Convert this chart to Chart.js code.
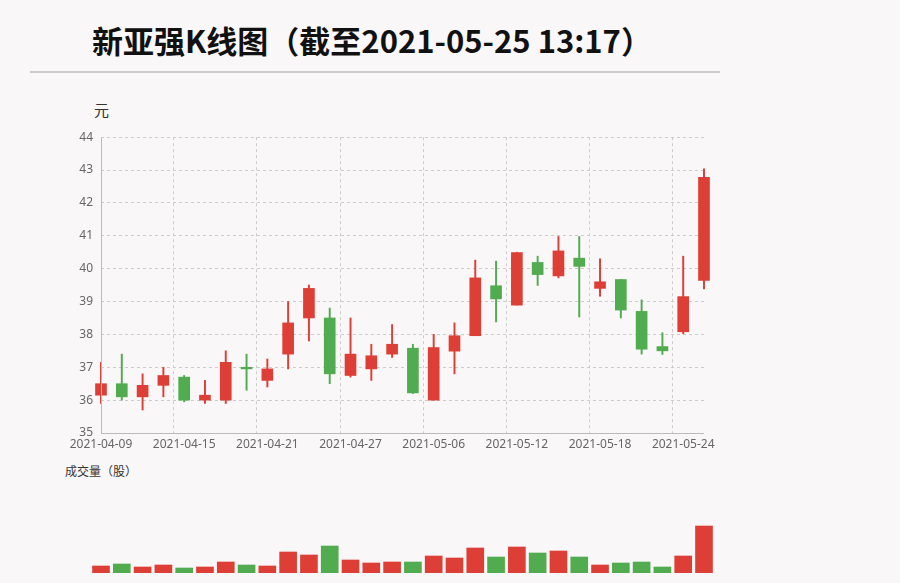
<!DOCTYPE html>
<html>
<head>
<meta charset="utf-8">
<script src="https://cdn.jsdelivr.net/npm/chart.js@4/dist/chart.umd.min.js"></script>
<style>
  body { margin: 0; background: #faf7f8; width: 900px; height: 583px; position: relative; overflow: hidden; font-family: "Noto Sans CJK SC", "Noto Sans", sans-serif; }
  #title { position: absolute; left: 0; width: 744px; top: 17px; text-align: center; font-size: 31px; font-weight: bold; color: #111; }
  #rule { position: absolute; left: 30px; width: 690px; top: 71px; height: 2px; background: #ccc; }
  .lbl { position: absolute; color: #333; }
  #priceBox { position: absolute; left: 61px; top: 122px; width: 659px; height: 335px; }
  #volBox { position: absolute; left: 61px; top: 480px; width: 659px; height: 93px; }
</style>
</head>
<body>
<div id="title">新亚强K线图（截至2021-05-25 13:17）</div>
<div id="rule"></div>
<div class="lbl" style="left:94px;top:99px;font-size:15px;">元</div>
<div class="lbl" style="left:65px;top:462px;font-size:12px;">成交量（股）</div>
<div id="priceBox"><canvas id="price"></canvas></div>
<div id="volBox"><canvas id="vol"></canvas></div>
<script>
const dates = ["2021-04-09","2021-04-12","2021-04-13","2021-04-14","2021-04-15","2021-04-16",
  "2021-04-19","2021-04-20","2021-04-21","2021-04-22","2021-04-23","2021-04-26","2021-04-27",
  "2021-04-28","2021-04-29","2021-04-30","2021-05-06","2021-05-07","2021-05-10","2021-05-11",
  "2021-05-12","2021-05-13","2021-05-14","2021-05-17","2021-05-18","2021-05-19","2021-05-20",
  "2021-05-21","2021-05-24","2021-05-25"];
const openPrices  = [36.15,36.5,36.1,36.45,36.7,36.0,36.0,37.0,36.6,37.4,38.5,38.5,36.75,36.95,37.4,37.58,36.0,37.49,37.96,39.48,38.89,40.19,39.78,40.32,39.4,39.67,38.7,37.63,38.08,39.64];
const closePrices = [36.5,36.1,36.45,36.75,36.0,36.15,37.15,36.95,36.95,38.35,39.4,36.8,37.4,37.35,37.7,36.22,37.6,37.96,39.72,39.08,40.49,39.82,40.54,40.07,39.6,38.74,37.55,37.5,39.15,42.78];
const highPrices  = [37.15,37.4,36.8,37.0,36.75,36.6,37.5,37.4,37.25,39.0,39.5,38.8,38.5,37.7,38.3,37.7,38.0,38.35,40.26,40.23,40.5,40.38,40.98,40.98,40.3,39.67,39.05,38.05,40.38,43.04];
const lowPrices   = [35.9,36.0,35.7,36.1,35.95,35.9,35.9,36.3,36.4,36.95,37.8,36.5,36.7,36.6,37.3,36.2,36.0,36.8,37.96,38.38,38.89,39.49,39.72,38.53,39.16,38.5,37.4,37.39,38.02,39.38];
const volumes = [70000,90000,60000,80000,50000,60000,110000,80000,70000,210000,180000,270000,130000,100000,110000,110000,170000,150000,250000,160000,260000,200000,220000,160000,80000,100000,110000,60000,170000,470000];
const yTicks = [35,36,37,38,39,40,41,42,43,44];

const RED = "#dd3f36", GREEN = "#50ac4f";
const colors = openPrices.map((o, i) => closePrices[i] >= o ? RED : GREEN);
const gridColor = "#cccccc";

// solid axis lines (grid lines are dashed)
const axisLines = {
  id: "axisLines",
  afterDraw: ch => {
    const a = ch.chartArea, ctx = ch.ctx;
    ctx.save();
    ctx.strokeStyle = "#bbb";
    ctx.lineWidth = 1;
    ctx.beginPath();
    ctx.moveTo(a.left + 0.5, a.top);
    ctx.lineTo(a.left + 0.5, a.bottom + 0.5);
    ctx.lineTo(a.right, a.bottom + 0.5);
    ctx.stroke();
    ctx.restore();
  }
};

new Chart(document.getElementById("price"), {
  type: "bar",
  data: {
    labels: dates,
    datasets: [
      { data: openPrices.map((o, i) => [o, closePrices[i]]), backgroundColor: colors, barThickness: 11, grouped: false, order: 1, clip: false },
      { data: lowPrices.map((l, i) => [l, highPrices[i]]), backgroundColor: colors, barThickness: 1.3, grouped: false, order: 2, clip: false }
    ]
  },
  options: {
    animation: false, responsive: true, maintainAspectRatio: false,
    layout: { padding: { top: 4, right: 16 } },
    plugins: { legend: { display: false }, tooltip: { enabled: false } },
    scales: {
      x: {
        offset: false,
        afterFit: s => { s.height = 24; },
        grid: { color: c => c.index % 4 === 0 ? gridColor : "transparent", drawTicks: false },
        border: { display: false, dash: [3, 3] },
        ticks: { autoSkip: false, maxRotation: 0, color: "#666", font: { size: 12, family: "Noto Sans" }, padding: 4,
          callback: (v, i) => i % 4 === 0 ? dates[i] : "" }
      },
      y: {
        min: 35, max: 44,
        afterFit: s => { s.width = 40; },
        afterBuildTicks: s => { s.ticks = yTicks.map(v => ({ value: v })); },
        grid: { color: gridColor, drawTicks: false },
        border: { display: false, dash: [3, 3] },
        ticks: { color: "#666", font: { size: 12, family: "Noto Sans" }, padding: 8 }
      }
    }
  },
  plugins: [axisLines]
});

new Chart(document.getElementById("vol"), {
  type: "bar",
  data: { labels: dates, datasets: [{ data: volumes, backgroundColor: colors, barThickness: 17, clip: false }] },
  options: {
    animation: false, responsive: true, maintainAspectRatio: false,
    layout: { padding: { right: 16 } },
    plugins: { legend: { display: false }, tooltip: { enabled: false } },
    scales: {
      x: { display: false, offset: false },
      y: { min: 0, max: 930000, afterFit: s => { s.width = 40; }, ticks: { display: false }, grid: { display: false }, border: { display: false } }
    }
  }
});
</script>
</body>
</html>
